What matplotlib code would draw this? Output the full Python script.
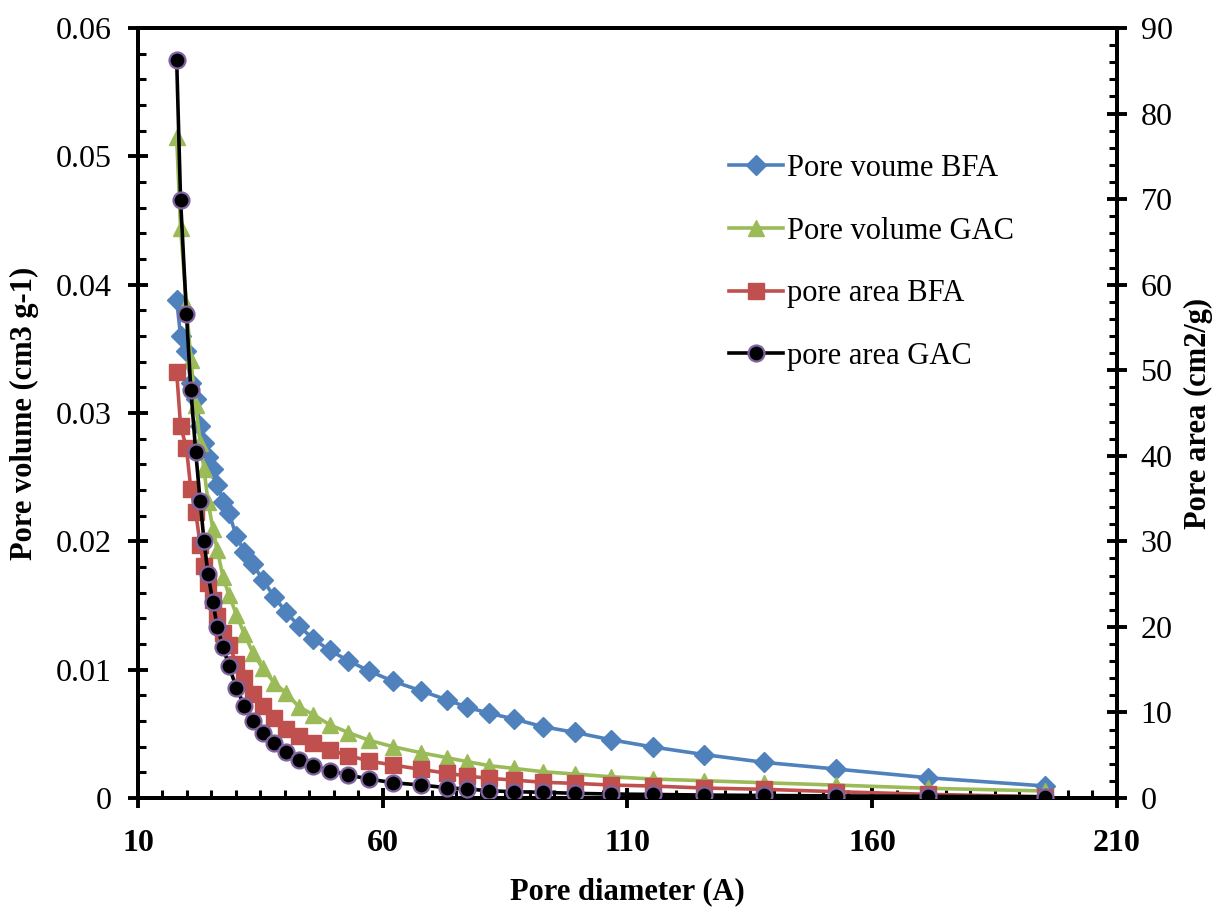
import matplotlib
matplotlib.use('Agg')
import matplotlib.pyplot as plt
from matplotlib.ticker import MultipleLocator, FixedLocator, FuncFormatter

plt.rcParams['font.family'] = ['Liberation Serif', 'DejaVu Serif']

# Pore diameter (A), shared by all four series
diameter = [17.9, 18.7, 19.9, 20.8, 21.8, 22.7, 23.5, 24.3, 25.3, 26.2,
            27.4, 28.6, 30.1, 31.7, 33.5, 35.5, 37.8, 40.2, 42.9, 45.8,
            49.2, 53.0, 57.2, 62.1, 67.8, 73.2, 77.3, 81.8, 86.8, 92.7,
            99.2, 106.6, 115.3, 125.6, 137.9, 152.6, 171.4, 195.3]

# left axis: pore volume (cm3/g)
vol_bfa = [0.0388, 0.0360, 0.0348, 0.0323, 0.0311, 0.0290, 0.0277, 0.0266, 0.0256, 0.0244,
           0.0231, 0.0222, 0.0204, 0.0192, 0.0182, 0.0170, 0.0157, 0.0145, 0.0134, 0.0124,
           0.0115, 0.0107, 0.0099, 0.0091, 0.00836, 0.00764, 0.00707, 0.0066, 0.00616, 0.00556,
           0.00512, 0.00454, 0.00397, 0.00339, 0.00278, 0.00226, 0.00158, 0.00094]
vol_gac = [0.0515, 0.0444, 0.0384, 0.0341, 0.0306, 0.0277, 0.0256, 0.0231, 0.0210, 0.0193,
           0.0172, 0.0158, 0.0143, 0.0128, 0.0113, 0.0101, 0.0090, 0.0082, 0.0071, 0.0065,
           0.0057, 0.0051, 0.0045, 0.0040, 0.00353, 0.00314, 0.00283, 0.00252, 0.00231, 0.00205,
           0.00187, 0.00166, 0.00148, 0.00135, 0.00119, 0.00101, 0.00076, 0.00055]

# right axis: pore area (cm2/g)
area_bfa = [49.8, 43.5, 40.9, 36.1, 33.4, 29.6, 27.1, 25.1, 23.1, 21.3,
            19.3, 17.9, 15.7, 14.0, 12.2, 10.8, 9.35, 8.06, 7.25, 6.43,
            5.61, 4.97, 4.32, 3.86, 3.35, 2.89, 2.57, 2.30, 2.10, 1.84,
            1.72, 1.52, 1.40, 1.17, 1.02, 0.74, 0.43, 0.15]
area_gac = [86.3, 69.9, 56.6, 47.7, 40.4, 34.7, 30.0, 26.2, 22.9, 20.0,
            17.6, 15.4, 12.9, 10.8, 9.03, 7.63, 6.39, 5.34, 4.44, 3.78,
            3.19, 2.69, 2.22, 1.79, 1.52, 1.20, 1.05, 0.85, 0.74, 0.67,
            0.55, 0.47, 0.42, 0.35, 0.30, 0.25, 0.20, 0.15]

x_ticks = [10, 60, 110, 160, 210]

fig = plt.figure(figsize=(12.19, 9.11), dpi=100)
ax = fig.add_axes([0.1132, 0.1240, 0.8031, 0.8453])
ax2 = ax.twinx()

l1, = ax.plot(diameter, vol_bfa, color='#4F81BD', lw=2.6, marker='D', ms=10,
              label='Pore voume BFA', zorder=3)
l2, = ax.plot(diameter, vol_gac, color='#9BBB59', lw=2.6, marker='^', ms=11.5,
              label='Pore volume GAC', zorder=3)
l3, = ax2.plot(diameter, area_bfa, color='#C0504D', lw=2.6, marker='s', ms=11,
               label='pore area BFA', zorder=3)
l4, = ax2.plot(diameter, area_gac, color='black', lw=2.6, marker='o', ms=11.5,
               markerfacecolor='black', markeredgecolor='#8064A2', markeredgewidth=1.6,
               label='pore area GAC', zorder=4)

ax.set_xlim(10, 210)
ax.set_ylim(0, 0.06)
ax2.set_ylim(0, 90)

ax.xaxis.set_major_locator(FixedLocator(x_ticks))
ax.xaxis.set_minor_locator(MultipleLocator(5))
ax.yaxis.set_major_locator(MultipleLocator(0.01))
ax.yaxis.set_minor_locator(MultipleLocator(0.002))
ax2.yaxis.set_major_locator(MultipleLocator(10))
ax2.yaxis.set_minor_locator(MultipleLocator(2))
ax.yaxis.set_major_formatter(FuncFormatter(lambda v, p: '0' if abs(v) < 1e-9 else '%.2f' % v))

for a in (ax, ax2):
    for s in a.spines.values():
        s.set_linewidth(2.8)
ax.tick_params(which='major', direction='inout', length=14, width=2.8, labelsize=23)
ax.tick_params(which='minor', direction='in', length=6, width=2.2)
ax.tick_params(axis='x', which='major', pad=15)
ax.tick_params(axis='y', which='major', pad=12)
ax2.tick_params(which='major', direction='inout', length=14, width=2.8, labelsize=23, pad=10)
ax2.tick_params(which='minor', direction='in', length=6, width=2.2)
for t in ax.get_xticklabels():
    t.set_fontweight('bold')

ax.set_xlabel('Pore diameter (A)', fontsize=22, fontweight='bold', labelpad=14)
ax.set_ylabel('Pore volume (cm3 g-1)', fontsize=22, fontweight='bold', labelpad=12)
ax2.set_ylabel('Pore area (cm2/g)', fontsize=22, fontweight='bold', labelpad=8)

ax2.legend([l1, l2, l3, l4], [l.get_label() for l in (l1, l2, l3, l4)],
           loc='upper left', bbox_to_anchor=(0.576, 0.872), frameon=False,
           fontsize=22, handlelength=1.75, handletextpad=0.15, labelspacing=1.1)

fig.savefig('out.png', dpi=100)
